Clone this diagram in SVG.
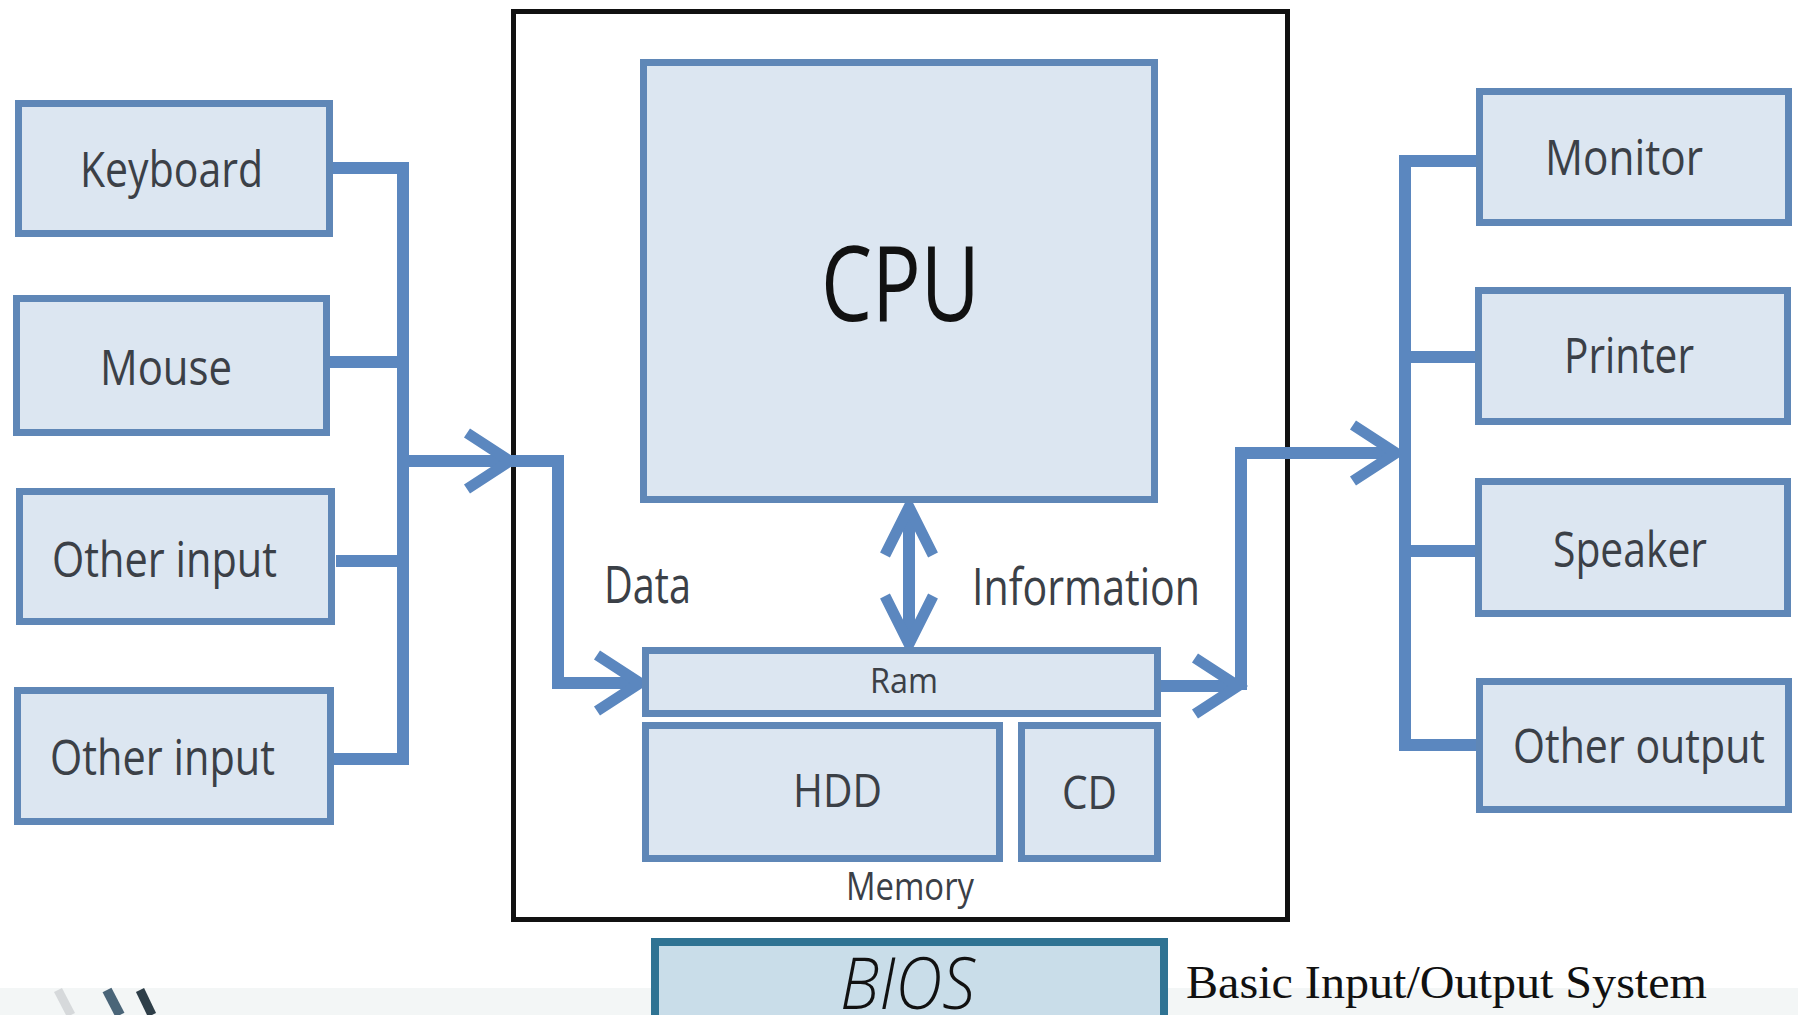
<svg xmlns="http://www.w3.org/2000/svg" width="1798" height="1015" viewBox="0 0 1798 1015">
<style>
.box{fill:#dce6f1;stroke:#5f87b7;stroke-width:7}
.bios{fill:#c9dde9;stroke:#2f7393;stroke-width:8}
.frame{fill:none;stroke:#111;stroke-width:5}
.con{fill:none;stroke:#5b87bf;stroke-width:12;stroke-linejoin:miter}
.lbl{font-family:"Open Sans","Noto Sans","Liberation Sans",sans-serif;font-size:50px;fill:#3b4047}
.big{font-family:"Open Sans","Noto Sans","Liberation Sans",sans-serif;font-size:105px;fill:#111}
.serif{font-family:"Liberation Serif","DejaVu Serif",serif;font-size:46px;fill:#111}
</style>
<defs>
<marker id="chev" markerUnits="userSpaceOnUse" viewBox="-8 -8 60 72" markerWidth="60" markerHeight="72" refX="43" refY="28" orient="auto" overflow="visible">
<path d="M0,0 L43,28 L0,56" fill="none" stroke="#5b87bf" stroke-width="11"/>
</marker>
<marker id="chevV" markerUnits="userSpaceOnUse" viewBox="-8 -8 64 64" markerWidth="64" markerHeight="64" refX="48" refY="24" orient="auto-start-reverse" overflow="visible">
<path d="M0,0 L48,24 L0,48" fill="none" stroke="#5b87bf" stroke-width="11"/>
</marker>
</defs>
<rect x="0" y="0" width="1798" height="1015" fill="#ffffff"/>
<rect x="0" y="988" width="1798" height="27" fill="#f3f6f6"/>
<g id="logo-fragment">
<path d="M58,990 L71,1015" stroke="#d6d9db" stroke-width="9"/>
<path d="M107,990 L120,1015" stroke="#4a6578" stroke-width="10"/>
<path d="M140,990 L152,1015" stroke="#2e3e48" stroke-width="9"/>
</g>
<g id="system-unit">
<rect class="frame" x="513.5" y="11.5" width="774" height="908"/>
</g>
<g id="connectors">
<path class="con" d="M333,168 H403 V759 H334"/>
<path class="con" d="M330,362 H403"/>
<path class="con" d="M336,561 H403"/>
<path class="con" d="M403,461 H510" marker-end="url(#chev)"/>
<path class="con" d="M505,461 H558 V683 H640" marker-end="url(#chev)"/>
<path class="con" d="M909,507 V644" marker-start="url(#chevV)" marker-end="url(#chevV)"/>
<path class="con" d="M1161,686 H1238" marker-end="url(#chev)"/>
<path class="con" d="M1241,690 V453 H1396" marker-end="url(#chev)"/>
<path class="con" d="M1476,161 H1405 V745 H1476"/>
<path class="con" d="M1405,357 H1475"/>
<path class="con" d="M1405,551 H1475"/>
</g>
<g id="keyboard"><rect class="box" x="18.5" y="103.5" width="311" height="130"/><text class="lbl" x="80" y="187" textLength="183" lengthAdjust="spacingAndGlyphs">Keyboard</text></g>
<g id="mouse"><rect class="box" x="16.5" y="298.5" width="310" height="134"/><text class="lbl" x="100" y="385" textLength="132" lengthAdjust="spacingAndGlyphs">Mouse</text></g>
<g id="other-input-1"><rect class="box" x="19.5" y="491.5" width="312" height="130"/><text class="lbl" x="52" y="577" textLength="225" lengthAdjust="spacingAndGlyphs">Other input</text></g>
<g id="other-input-2"><rect class="box" x="17.5" y="690.5" width="313" height="131"/><text class="lbl" x="50" y="775" textLength="225" lengthAdjust="spacingAndGlyphs">Other input</text></g>
<g id="cpu"><rect class="box" x="643.5" y="62.5" width="511" height="437"/><text class="big" x="821" y="321" textLength="159" lengthAdjust="spacingAndGlyphs">CPU</text></g>
<g id="data-label"><text class="lbl" x="604" y="603" style="font-size:52px" textLength="87" lengthAdjust="spacingAndGlyphs">Data</text></g>
<g id="information-label"><text class="lbl" x="972" y="605" style="font-size:52px" textLength="228" lengthAdjust="spacingAndGlyphs">Information</text></g>
<g id="ram"><rect class="box" x="645.5" y="650.5" width="512" height="63"/><text class="lbl" x="870" y="693" style="font-size:35px" textLength="68" lengthAdjust="spacingAndGlyphs">Ram</text></g>
<g id="hdd"><rect class="box" x="645.5" y="725.5" width="354" height="133"/><text class="lbl" x="793" y="807" style="font-size:46px" textLength="89" lengthAdjust="spacingAndGlyphs">HDD</text></g>
<g id="cd"><rect class="box" x="1021.5" y="725.5" width="136" height="133"/><text class="lbl" x="1062" y="809" style="font-size:46px" textLength="55" lengthAdjust="spacingAndGlyphs">CD</text></g>
<g id="memory-label"><text class="lbl" x="846" y="900" style="font-size:38px" textLength="128" lengthAdjust="spacingAndGlyphs">Memory</text></g>
<g id="monitor"><rect class="box" x="1479.5" y="91.5" width="309" height="131"/><text class="lbl" x="1545" y="175" textLength="158" lengthAdjust="spacingAndGlyphs">Monitor</text></g>
<g id="printer"><rect class="box" x="1478.5" y="290.5" width="309" height="131"/><text class="lbl" x="1564" y="373" textLength="130" lengthAdjust="spacingAndGlyphs">Printer</text></g>
<g id="speaker"><rect class="box" x="1478.5" y="481.5" width="309" height="132"/><text class="lbl" x="1553" y="567" textLength="154" lengthAdjust="spacingAndGlyphs">Speaker</text></g>
<g id="other-output"><rect class="box" x="1479.5" y="681.5" width="309" height="128"/><text class="lbl" x="1513" y="763" style="font-size:48px" textLength="252" lengthAdjust="spacingAndGlyphs">Other output</text></g>
<g id="bios"><rect class="bios" x="655" y="942" width="509" height="90"/><text class="big" x="840" y="1009" style="font-size:72px;font-style:italic;font-weight:300" textLength="135" lengthAdjust="spacingAndGlyphs">BIOS</text></g>
<g id="bios-caption"><text class="serif" x="1186" y="998" textLength="521" lengthAdjust="spacingAndGlyphs">Basic Input/Output System</text></g>
</svg>
